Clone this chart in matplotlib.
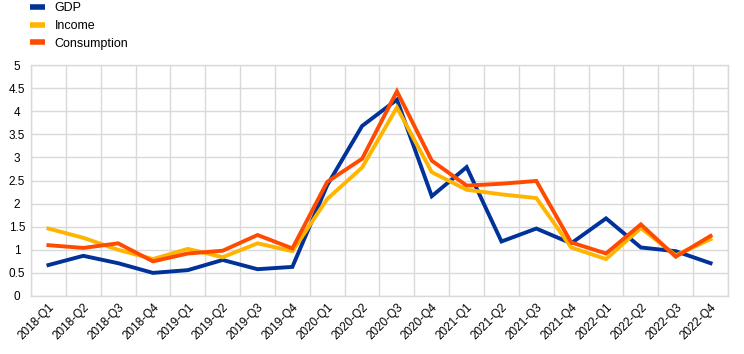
import matplotlib
matplotlib.use("Agg")
import matplotlib.pyplot as plt
import numpy as np

plt.rcParams["font.family"] = ["Liberation Sans", "DejaVu Sans"]

quarters = [f"{y}-Q{q}" for y in range(2018, 2023) for q in range(1, 5)]
gdp = [0.67, 0.87, 0.71, 0.50, 0.56, 0.78, 0.58, 0.63, 2.40, 3.68, 4.25, 2.16,
       2.79, 1.18, 1.46, 1.14, 1.68, 1.05, 0.97, 0.71]
income = [1.46, 1.26, 1.00, 0.80, 1.02, 0.84, 1.14, 0.97, 2.10, 2.78, 4.08, 2.68,
          2.30, 2.20, 2.12, 1.05, 0.80, 1.47, 0.88, 1.23]
consumption = [1.10, 1.04, 1.14, 0.75, 0.92, 0.98, 1.32, 1.03, 2.47, 2.97, 4.43, 2.93,
               2.39, 2.43, 2.49, 1.16, 0.92, 1.55, 0.85, 1.30]

fig = plt.figure(figsize=(7.44, 3.54), dpi=100)
ax = fig.add_axes([31/744, 58/354, (728-31)/744, (296-65)/354])

x = np.arange(len(quarters))
lw = 2.8
ax.plot(x, gdp, color="#003299", lw=lw, label="GDP", solid_joinstyle="miter")
ax.plot(x, income, color="#FFB400", lw=lw, label="Income", solid_joinstyle="miter")
ax.plot(x, consumption, color="#FF4B00", lw=lw, label="Consumption", solid_joinstyle="miter")

ax.set_xlim(-0.5, len(quarters) - 0.5)
ax.set_ylim(0, 5)
ax.set_yticks(np.arange(0, 5.01, 0.5))
ax.set_yticklabels(["0", "0.5", "1", "1.5", "2", "2.5", "3", "3.5", "4", "4.5", "5"], fontsize=8.5)
ax.set_xticks(x)
ax.set_xticklabels(quarters, rotation=45, ha="right", rotation_mode="anchor", fontsize=8.5)
ax.set_xticks(np.arange(-0.5, len(quarters), 1), minor=True)
ax.tick_params(axis="both", which="both", length=0)
ax.tick_params(axis="x", pad=4)
ax.tick_params(axis="y", pad=10)
for lbl in ax.get_yticklabels():
    lbl.set_horizontalalignment("center")
ax.grid(True, axis="y", which="major", color="#d9d9d9", lw=1)
ax.grid(True, axis="x", which="minor", color="#d9d9d9", lw=1)
ax.grid(False, axis="x", which="major")
ax.set_axisbelow(True)
for s in ax.spines.values():
    s.set_color("#d9d9d9")
    s.set_linewidth(1)

handles, labels = ax.get_legend_handles_labels()
leg = fig.legend(handles, labels, loc="upper left", bbox_to_anchor=(24/744, 1.0 + 4/354),
                 frameon=False, fontsize=9, handlelength=1.2, handleheight=0.6,
                 labelspacing=0.45, handletextpad=0.75, borderaxespad=0.1)
for h in leg.get_lines():
    h.set_linewidth(4)
    h.set_solid_capstyle("butt")

fig.savefig("out.png", dpi=100)
